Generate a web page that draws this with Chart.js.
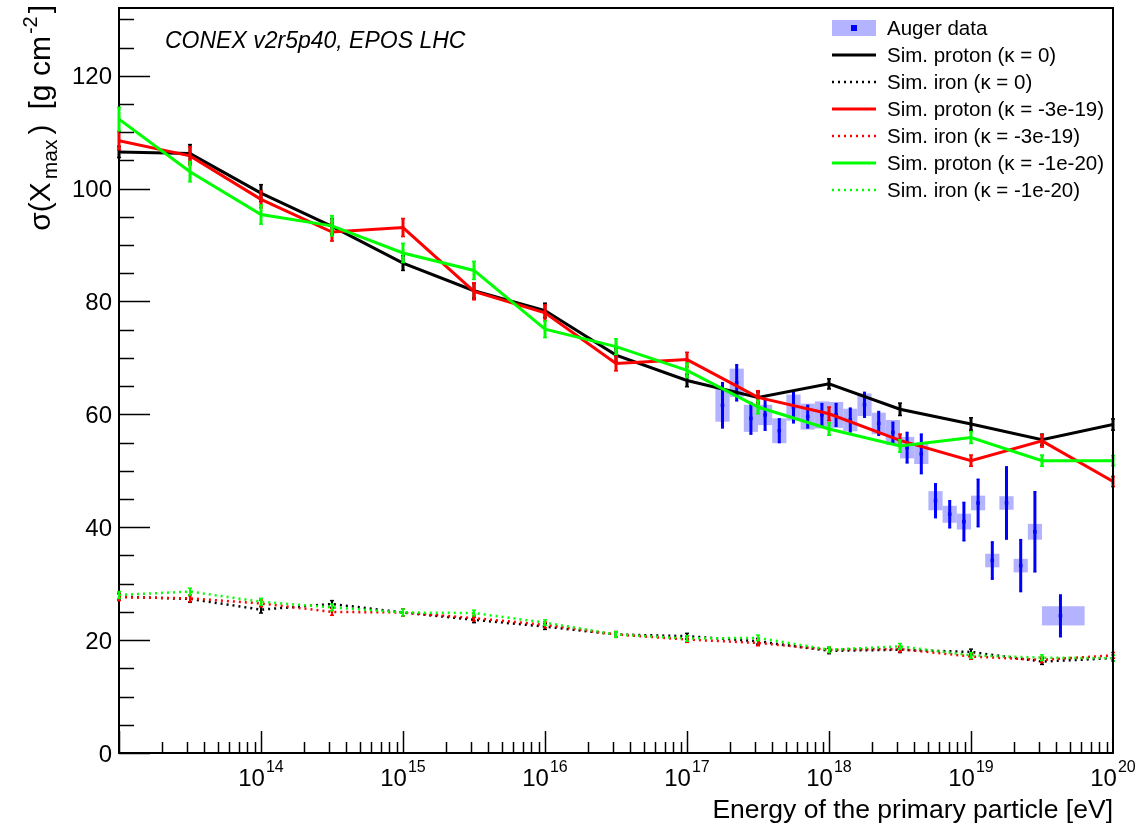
<!DOCTYPE html>
<html>
<head>
<meta charset="utf-8">
<title>σ(Xmax) vs energy</title>
<script src="https://cdn.jsdelivr.net/npm/chart.js@4.4.1/dist/chart.umd.min.js"></script>
<style>
  html, body { margin: 0; padding: 0; background: #ffffff; }
  #wrap { width: 1144px; height: 825px; position: relative; }
  canvas { display: block; }
</style>
</head>
<body>
<div id="wrap"><canvas id="chart" width="1144" height="825"></canvas></div>
<script>
// ---- Simulated showers (CONEX v2r5p40, EPOS LHC): log10(E/eV) grid ----
const simLgE = [13, 13.5, 14, 14.5, 15, 15.5, 16, 16.5, 17, 17.5, 18, 18.5, 19, 19.5, 20];

// proton, kappa = 0
const protonK0      = [106.5, 106.2, 99.2, 93.3, 86.8, 81.9, 78.4, 70.5, 66.0, 63.0, 65.4, 60.9, 58.3, 55.5, 58.2];
const protonK0Err   = [1.0, 1.6, 1.5, 1.4, 1.3, 1.3, 1.3, 1.2, 1.1, 1.0, 0.9, 1.1, 1.1, 1.0, 1.0];
// proton, kappa = -3e-19
const protonKm3e19    = [108.5, 105.8, 98.1, 92.3, 93.1, 81.8, 78.0, 69.0, 69.7, 63.0, 60.1, 55.4, 51.8, 55.3, 48.1];
const protonKm3e19Err = [1.6, 1.6, 1.5, 1.6, 1.6, 1.5, 1.4, 1.3, 1.3, 1.2, 1.2, 1.1, 1.0, 1.1, 0.9];
// proton, kappa = -1e-20
const protonKm1e20    = [112.3, 103.0, 95.4, 93.4, 88.6, 85.5, 75.1, 72.0, 67.8, 61.3, 57.4, 54.4, 55.9, 51.8, 51.8];
const protonKm1e20Err = [2.1, 1.8, 1.7, 1.8, 1.7, 1.6, 1.5, 1.4, 1.3, 1.2, 1.1, 1.1, 1.05, 1.0, 0.9];

// iron primaries
const ironK0      = [27.7, 27.3, 25.4, 26.4, 24.9, 23.6, 22.4, 21.0, 20.7, 19.8, 18.1, 18.3, 17.9, 16.2, 16.8];
const ironKm3e19  = [27.6, 27.4, 26.5, 25.0, 24.9, 23.9, 22.7, 21.0, 20.1, 19.5, 18.3, 18.4, 17.1, 16.5, 17.3];
const ironKm1e20  = [28.0, 28.6, 26.8, 25.8, 24.9, 24.8, 23.1, 21.0, 20.3, 20.4, 18.3, 18.9, 17.3, 16.9, 16.8];
const ironErr     = [0.6, 0.6, 0.6, 0.6, 0.6, 0.5, 0.5, 0.5, 0.5, 0.5, 0.5, 0.5, 0.5, 0.5, 0.5];

// ---- Auger measurement ----
const augerLgE   = [17.25, 17.35, 17.45, 17.55, 17.65, 17.75, 17.85, 17.95, 18.05, 18.15, 18.25, 18.35,
                    18.45, 18.55, 18.65, 18.75, 18.85, 18.95, 19.05, 19.15, 19.25, 19.35, 19.45, 19.63];
const augerBinLo = [17.2, 17.3, 17.4, 17.5, 17.6, 17.7, 17.8, 17.9, 18.0, 18.1, 18.2, 18.3,
                    18.4, 18.5, 18.6, 18.7, 18.8, 18.9, 19.0, 19.1, 19.2, 19.3, 19.4, 19.5];
const augerBinHi = [17.3, 17.4, 17.5, 17.6, 17.7, 17.8, 17.9, 18.0, 18.1, 18.2, 18.3, 18.4,
                    18.5, 18.6, 18.7, 18.8, 18.9, 19.0, 19.1, 19.2, 19.3, 19.4, 19.5, 19.8];
const augerSigma = [61.6, 65.6, 59.3, 59.9, 57.1, 61.2, 59.6, 59.9, 59.9, 59.0, 61.7, 58.4,
                    56.8, 54.1, 53.0, 44.7, 42.3, 41.0, 44.3, 34.1, 44.3, 33.2, 39.2, 24.3];
const augerStat  = [4.0, 3.2, 2.8, 2.7, 2.1, 2.7, 2.0, 2.0, 2.0, 2.1, 2.2, 2.1,
                    1.8, 2.7, 3.5, 3.0, 2.4, 3.4, 4.2, 3.3, 6.4, 4.6, 7.1, 3.7];
const augerSys   = [2.9, 2.5, 2.4, 1.8, 2.2, 2.3, 2.3, 2.4, 2.3, 2.0, 2.0, 1.9,
                    2.2, 1.9, 1.8, 1.7, 1.5, 1.4, 1.3, 1.2, 1.2, 1.2, 1.4, 1.7];

// ---- axis ticks ----
const xDecadeLabels = [14, 15, 16, 17, 18, 19, 20];
const yTickLabels = [0, 20, 40, 60, 80, 100, 120];
const xMinLg = 13, xMaxLg = 20;
const yMin = 0, yMax = 132;

const FONT = '"Liberation Sans", Arial, Helvetica, sans-serif';
const BLUE = '#0000ff';
const BOX = 'rgba(179,179,255,1)';

const pts = (lg, v) => lg.map((l, i) => ({ x: Math.pow(10, l), y: v[i] }));

function simSet(label, values, errs, color, dotted, order) {
  return {
    label, data: pts(simLgE, values), errs,
    borderColor: color, backgroundColor: color,
    borderWidth: dotted ? 2.5 : 3,
    borderDash: dotted ? [2, 4] : [],
    pointRadius: 0, tension: 0, fill: false, order,
    dotted
  };
}

const datasets = [
  simSet('Sim. proton (κ = 0)', protonK0, protonK0Err, '#000000', false, 3),
  simSet('Sim. iron (κ = 0)', ironK0, ironErr, '#000000', true, 6),
  simSet('Sim. proton (κ = -3e-19)', protonKm3e19, protonKm3e19Err, '#ff0000', false, 2),
  simSet('Sim. iron (κ = -3e-19)', ironKm3e19, ironErr, '#ff0000', true, 5),
  simSet('Sim. proton (κ = -1e-20)', protonKm1e20, protonKm1e20Err, '#00ff00', false, 1),
  simSet('Sim. iron (κ = -1e-20)', ironKm1e20, ironErr, '#00ff00', true, 4),
  {
    label: 'Auger data', data: pts(augerLgE, augerSigma), auger: true,
    showLine: false, pointStyle: 'rect', pointRadius: 2.5,
    backgroundColor: BLUE, borderColor: BLUE, borderWidth: 0, order: 10
  }
];

function vline(ctx, x, y1, y2) {
  ctx.beginPath(); ctx.moveTo(x, y1); ctx.lineTo(x, y2); ctx.stroke();
}
function hline(ctx, x1, x2, y) {
  ctx.beginPath(); ctx.moveTo(x1, y); ctx.lineTo(x2, y); ctx.stroke();
}

// Auger systematic boxes under everything else
const augerBoxes = {
  id: 'augerBoxes',
  beforeDatasetsDraw(chart) {
    const { ctx, scales: { x, y } } = chart;
    ctx.save();
    ctx.fillStyle = BOX;
    augerSigma.forEach((v, i) => {
      const x1 = x.getPixelForValue(Math.pow(10, augerBinLo[i]));
      const x2 = x.getPixelForValue(Math.pow(10, augerBinHi[i]));
      const y1 = y.getPixelForValue(v + augerSys[i]);
      const y2 = y.getPixelForValue(v - augerSys[i]);
      ctx.fillRect(x1, y1, x2 - x1, y2 - y1);
    });
    ctx.restore();
  }
};

// vertical error bars drawn right after each dataset
const errorBars = {
  id: 'errorBars',
  afterDatasetDraw(chart, args) {
    const ds = chart.data.datasets[args.index];
    const meta = args.meta;
    const { ctx, scales: { y } } = chart;
    ctx.save();
    ctx.setLineDash([]);
    if (ds.auger) {
      ctx.strokeStyle = BLUE;
      meta.data.forEach((p, i) => {
        const v = augerSigma[i], e = augerStat[i];
        const y1 = y.getPixelForValue(v + e), y2 = y.getPixelForValue(v - e);
        ctx.lineWidth = 3;
        vline(ctx, p.x, y1, y2);
        ctx.lineWidth = 1.5;
        hline(ctx, p.x - 1.5, p.x + 1.5, y1);
        hline(ctx, p.x - 1.5, p.x + 1.5, y2);
      });
    } else if (ds.errs) {
      ctx.strokeStyle = ds.borderColor;
      meta.data.forEach((p, i) => {
        const v = ds.data[i].y, e = ds.errs[i];
        const y1 = y.getPixelForValue(v + e), y2 = y.getPixelForValue(v - e);
        ctx.lineWidth = ds.dotted ? 2 : 3;
        vline(ctx, p.x, y1, y2);
        ctx.lineWidth = 1.5;
        hline(ctx, p.x - 2, p.x + 2, y1);
        hline(ctx, p.x - 2, p.x + 2, y2);
      });
    }
    ctx.restore();
  }
};

// frame, inward ticks, tick labels, titles, legend
const decor = {
  id: 'decor',
  afterDraw(chart) {
    const { ctx, chartArea: a, scales: { x, y } } = chart;
    ctx.save();
    ctx.strokeStyle = '#000'; ctx.fillStyle = '#000';
    ctx.setLineDash([]);

    // top and right edges of the frame
    ctx.lineWidth = 2;
    ctx.beginPath();
    ctx.moveTo(a.left - 1, a.top); ctx.lineTo(a.right, a.top); ctx.lineTo(a.right, a.bottom + 1);
    ctx.stroke();

    // y ticks (major every 20, minor every 5)
    ctx.lineWidth = 1.5;
    for (let v = yMin; v <= yMax; v += 5) {
      const py = Math.round(y.getPixelForValue(v)) + 0.5;
      const len = v % 20 === 0 ? 31 : 15;
      hline(ctx, a.left, a.left + len, py);
    }
    // x ticks (log decades with 2..9 subdivisions)
    for (let d = xMinLg; d < xMaxLg; d++) {
      for (let m = 1; m <= 9; m++) {
        const px = Math.round(x.getPixelForValue(m * Math.pow(10, d))) + 0.5;
        const len = m === 1 ? 22 : 11;
        vline(ctx, px, a.bottom, a.bottom - len);
      }
    }

    // y tick labels
    ctx.font = `24px ${FONT}`;
    ctx.textAlign = 'right'; ctx.textBaseline = 'alphabetic';
    yTickLabels.forEach(v => {
      const py = y.getPixelForValue(v);
      ctx.fillText(String(v), a.left - 7, py + 8.5);
    });

    // x tick labels 10^n
    ctx.textAlign = 'left';
    xDecadeLabels.forEach(n => {
      const px = x.getPixelForValue(Math.pow(10, n));
      ctx.font = `24px ${FONT}`;
      const w1 = ctx.measureText('10').width;
      ctx.font = `16px ${FONT}`;
      const w2 = ctx.measureText(String(n)).width;
      const x0 = px - (w1 + 1 + w2) / 2;
      ctx.font = `24px ${FONT}`;
      ctx.fillText('10', x0, 786);
      ctx.font = `16px ${FONT}`;
      ctx.fillText(String(n), x0 + w1 + 1, 772);
    });

    // x title
    ctx.font = `26.5px ${FONT}`;
    ctx.textAlign = 'right';
    ctx.fillText('Energy of the primary particle [eV]', a.right, 818);

    // y title, rotated, ending at the top
    const parts = [
      { t: 'σ(X', s: 30, dy: 0, gap: 3 },
      { t: 'max', s: 21, dy: 7, gap: 5 },
      { t: ')', s: 30, dy: 0, gap: 15 },
      { t: '[g cm', s: 30, dy: 0, gap: 2 },
      { t: '-2', s: 20, dy: -13, gap: 3 },
      { t: ']', s: 30, dy: 0, gap: 0 }
    ];
    let W = 0;
    parts.forEach(p => { ctx.font = `${p.s}px ${FONT}`; p.w = ctx.measureText(p.t).width; W += p.w + p.gap; });
    ctx.save();
    ctx.translate(50, a.top - 3);
    ctx.rotate(-Math.PI / 2);
    ctx.textAlign = 'left';
    let cx = -W;
    parts.forEach(p => {
      ctx.font = `${p.s}px ${FONT}`;
      ctx.fillText(p.t, cx, p.dy);
      cx += p.w + p.gap;
    });
    ctx.restore();

    // model label
    ctx.font = `italic 23px ${FONT}`;
    ctx.textAlign = 'left';
    ctx.fillText('CONEX v2r5p40, EPOS LHC', 165, 48);

    // legend
    const rows = [
      { label: 'Auger data', auger: true },
      { label: 'Sim. proton (κ = 0)', color: '#000000', dotted: false },
      { label: 'Sim. iron (κ = 0)', color: '#000000', dotted: true },
      { label: 'Sim. proton (κ = -3e-19)', color: '#ff0000', dotted: false },
      { label: 'Sim. iron (κ = -3e-19)', color: '#ff0000', dotted: true },
      { label: 'Sim. proton (κ = -1e-20)', color: '#00ff00', dotted: false },
      { label: 'Sim. iron (κ = -1e-20)', color: '#00ff00', dotted: true }
    ];
    const lx1 = 832, lx2 = 876, tx = 887;
    rows.forEach((r, i) => {
      const cy = 28 + i * 27;
      if (r.auger) {
        ctx.fillStyle = BOX;
        ctx.fillRect(lx1, cy - 8, lx2 - lx1, 16);
        ctx.fillStyle = BLUE;
        ctx.fillRect((lx1 + lx2) / 2 - 3, cy - 3, 6, 6);
      } else {
        ctx.strokeStyle = r.color;
        ctx.lineWidth = r.dotted ? 2.5 : 3;
        ctx.setLineDash(r.dotted ? [2, 4] : []);
        hline(ctx, lx1, lx2, cy);
        ctx.setLineDash([]);
      }
      ctx.fillStyle = '#000';
      ctx.font = `20.5px ${FONT}`;
      ctx.textAlign = 'left';
      ctx.fillText(r.label, tx, cy + 7);
    });

    ctx.restore();
  }
};

new Chart(document.getElementById('chart'), {
  type: 'line',
  data: { datasets },
  options: {
    responsive: false,
    devicePixelRatio: 1,
    animation: false,
    layout: { padding: { top: 8, right: 31, left: 0, bottom: 0 } },
    plugins: { legend: { display: false }, tooltip: { enabled: false } },
    scales: {
      x: {
        type: 'logarithmic',
        min: Math.pow(10, xMinLg), max: Math.pow(10, xMaxLg),
        ticks: { display: false },
        grid: { display: true, drawOnChartArea: false, drawTicks: false },
        border: { display: true, color: '#000', width: 2 },
        afterFit(scale) { scale.height = 72; }
      },
      y: {
        type: 'linear',
        min: yMin, max: yMax,
        ticks: { display: false },
        grid: { display: true, drawOnChartArea: false, drawTicks: false },
        border: { display: true, color: '#000', width: 2 },
        afterFit(scale) { scale.width = 119; }
      }
    }
  },
  plugins: [augerBoxes, errorBars, decor]
});
</script>
</body>
</html>
